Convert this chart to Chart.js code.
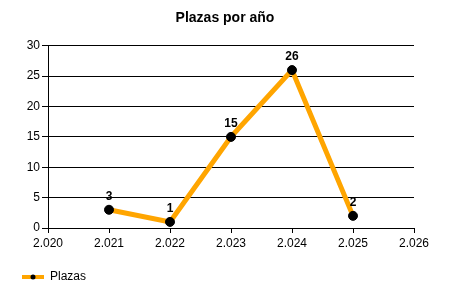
<!DOCTYPE html>
<html>
<head>
<meta charset="utf-8">
<script src="https://cdn.jsdelivr.net/npm/chart.js@4"></script>
<style>
  html, body { margin: 0; padding: 0; background: #fff; }
  #wrap { width: 450px; height: 300px; }
</style>
</head>
<body>
<div id="wrap"><canvas id="chart"></canvas></div>
<script>
// data
const years = [2021, 2022, 2023, 2024, 2025];
const plazas = [3, 1, 15, 26, 2];
const seriesName = "Plazas";
const chartTitle = "Plazas por año";

const FONT = "'Liberation Sans', Arial, sans-serif";
const ORANGE = "rgb(255,165,0)";

// small marker for the legend: orange line with black dot
const legendMark = document.createElement("canvas");
legendMark.width = 22;
legendMark.height = 8;
(function () {
  const c = legendMark.getContext("2d");
  c.fillStyle = ORANGE;
  c.fillRect(0, 2, 22, 4);
  c.fillStyle = "#000";
  c.beginPath();
  c.arc(11, 4, 2.5, 0, Math.PI * 2);
  c.fill();
})();

// draw value labels above each point
const valueLabels = {
  id: "valueLabels",
  afterDatasetsDraw(chart) {
    const ctx = chart.ctx;
    const meta = chart.getDatasetMeta(0);
    ctx.save();
    ctx.font = "bold 12px " + FONT;
    ctx.fillStyle = "#000";
    ctx.textAlign = "center";
    ctx.textBaseline = "middle";
    meta.data.forEach((pt, i) => {
      ctx.fillText(String(plazas[i]), pt.x, pt.y - 13);
    });
    ctx.restore();
  },
};

const fmtYear = (v) => {
  const s = String(v);
  return s.slice(0, s.length - 3) + "." + s.slice(-3);
};

new Chart(document.getElementById("chart"), {
  type: "line",
  data: {
    datasets: [
      {
        label: seriesName,
        data: years.map((y, i) => ({ x: y, y: plazas[i] })),
        borderColor: ORANGE,
        borderWidth: 5,
        pointRadius: 4.5,
        pointBackgroundColor: "#000",
        pointBorderColor: "#000",
        pointBorderWidth: 1,
        pointStyle: "circle",
        tension: 0,
      },
    ],
  },
  options: {
    responsive: true,
    maintainAspectRatio: false,
    animation: false,
    layout: { padding: { left: 12, right: 12, top: 0, bottom: 7 } },
    plugins: {
      tooltip: { enabled: false },
      title: {
        display: true,
        text: chartTitle,
        color: "#000",
        font: { family: FONT, size: 14, weight: "bold" },
        padding: { top: 10, bottom: 19 },
      },
      legend: {
        position: "bottom",
        align: "start",
        labels: {
          usePointStyle: true,
          pointStyle: legendMark,
          pointStyleWidth: 22,
          color: "#000",
          font: { family: FONT, size: 12 },
          padding: 10,
        },
      },
    },
    scales: {
      x: {
        type: "linear",
        min: 2020,
        max: 2026,
        afterFit: (axis) => { axis.height = 33; },
        ticks: {
          stepSize: 1,
          color: "#000",
          font: { family: FONT, size: 12 },
          padding: 3,
          maxRotation: 0,
          callback: (v) => fmtYear(v),
        },
        grid: {
          display: true,
          drawOnChartArea: false,
          drawTicks: true,
          tickLength: 5,
          color: "#000",
        },
        border: { display: true, color: "#000", width: 1 },
      },
      y: {
        min: 0,
        max: 30,
        afterFit: (axis) => { axis.width = 36; },
        ticks: {
          stepSize: 5,
          color: "#000",
          font: { family: FONT, size: 12 },
          padding: 2,
        },
        grid: {
          color: "#000",
          tickLength: 6,
        },
        border: { display: true, color: "#000", width: 1 },
      },
      yRight: {
        position: "right",
        display: true,
        afterFit: (axis) => { axis.width = 24; },
        ticks: { display: false },
        grid: { display: false, drawOnChartArea: false },
        border: { display: false },
      },
    },
  },
  plugins: [valueLabels],
});
</script>
</body>
</html>
